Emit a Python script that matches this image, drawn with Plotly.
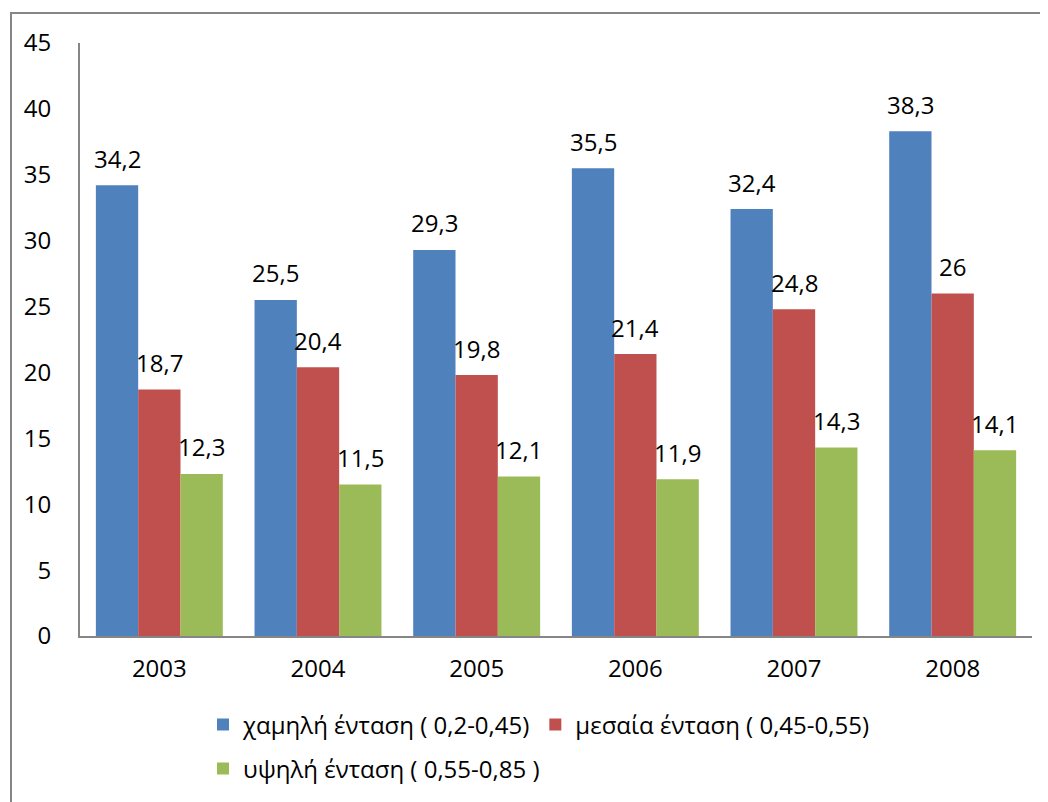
import plotly.graph_objects as go

years = ["2003", "2004", "2005", "2006", "2007", "2008"]
low = [34.2, 25.5, 29.3, 35.5, 32.4, 38.3]
mid = [18.7, 20.4, 19.8, 21.4, 24.8, 26]
high = [12.3, 11.5, 12.1, 11.9, 14.3, 14.1]
names = ["χαμηλή ένταση ( 0,2-0,45)", "μεσαία ένταση ( 0,45-0,55)", "υψηλή ένταση ( 0,55-0,85 )"]
colors = ["#4F81BD", "#C0504D", "#9BBB59"]
y_ticks = [0, 5, 10, 15, 20, 25, 30, 35, 40, 45]

FONT = "Open Sans"
FS = 24
OFF = 8  # default page body margin
W, H = 1048 - OFF, 802 - OFF
# plot area target (screen px): x 80..1032, y 43..636
ML, MT = 80 - OFF, 43 - OFF
MR = W - (1032 - OFF)
MB = H - (636 - OFF)
pw = W - ML - MR
ph = H - MT - MB
slot = pw / len(years)
bw = slot * 0.8 / 3

fig = go.Figure()
series = [low, mid, high]
legends = ["legend", "legend", "legend2"]
for i, (vals, name, col, lg) in enumerate(zip(series, names, colors, legends)):
    fig.add_trace(go.Bar(x=years, y=vals, name=name, marker=dict(color=col, line=dict(width=0)),
                         legend=lg))
    for j, yv in enumerate(vals):
        # category axis: numeric x is the category index
        fig.add_annotation(x=j, y=yv, xref="x", yref="y", text=f"{yv:g}".replace(".", ","),
                           showarrow=False, xshift=(i - 1) * bw, yshift=27, yanchor="middle",
                           font=dict(family=FONT, size=FS, color="#000000"))

def px_x(sx):
    return (sx - OFF - ML) / pw

def px_y(sy):
    return (H - MB - (sy - OFF)) / ph

fig.add_shape(type="rect", xref="paper", yref="paper",
              x0=px_x(11), x1=px_x(1080), y0=px_y(840), y1=px_y(13),
              line=dict(color="#868686", width=2), fillcolor="rgba(0,0,0,0)", layer="below")

fig.update_layout(
    width=W, height=H,
    margin=dict(l=ML, r=MR, t=MT, b=MB, pad=0, autoexpand=False),
    paper_bgcolor="white", plot_bgcolor="white",
    barmode="group", bargap=0.2, bargroupgap=0,
    font=dict(family=FONT, size=FS, color="#000000"),
    showlegend=True,
    legend=dict(orientation="h", x=px_x(218 - 15), xanchor="left",
                y=px_y(728 - 3), yanchor="middle",
                font=dict(family=FONT, size=FS),
                bgcolor="rgba(0,0,0,0)", itemclick=False),
    legend2=dict(orientation="h", x=px_x(218 - 15), xanchor="left",
                 y=px_y(773 - 4), yanchor="middle",
                 font=dict(family=FONT, size=FS),
                 bgcolor="rgba(0,0,0,0)"),
    xaxis=dict(type="category", range=[-0.5, len(years) - 0.5], showline=True, automargin=False,
               linecolor="#868686", linewidth=2, showgrid=False,
               ticks="", tickfont=dict(family=FONT, size=FS), ticklabelstandoff=10, fixedrange=True),
    yaxis=dict(range=[0, 45], tickvals=y_ticks, showline=True, linecolor="#868686", linewidth=2,
               showgrid=False, zeroline=False, ticks="", tickfont=dict(family=FONT, size=FS),
               automargin=False, ticklabelstandoff=22, fixedrange=True),
)

fig.write_html("out.html")
